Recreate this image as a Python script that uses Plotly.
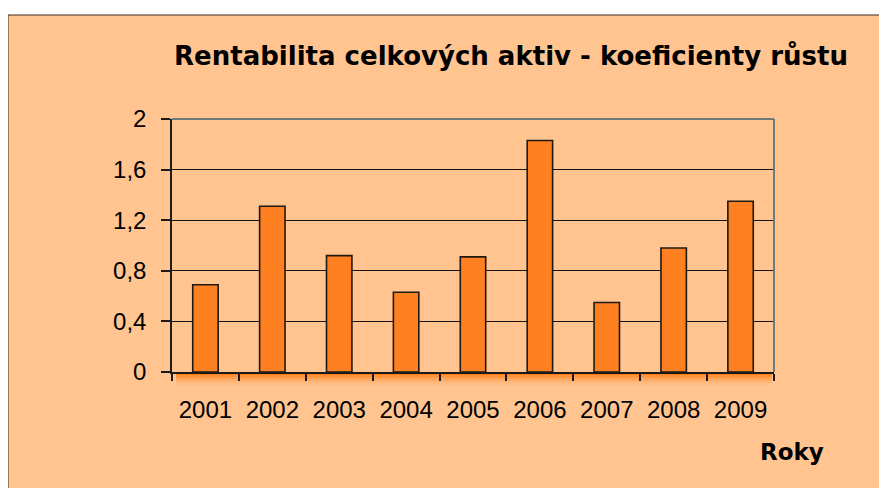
import plotly.graph_objects as go

years = ["2001", "2002", "2003", "2004", "2005", "2006", "2007", "2008", "2009"]
values = [0.69, 1.31, 0.92, 0.63, 0.91, 1.83, 0.55, 0.98, 1.35]
y_tick_vals = [0, 0.4, 0.8, 1.2, 1.6, 2]
y_tick_text = ["0", "0,4", "0,8", "1,2", "1,6", "2"]
title_text = "Rentabilita celkových aktiv - koeficienty růstu"
x_title = "Roky"

# page body adds an 8px margin; work in figure pixel coords (reference - 8)
OFF = 8
W, H = 887 - OFF, 488 - OFF
L, R, T, B = 172 - OFF, 774 - OFF, 119 - OFF, 372 - OFF
pw, ph = R - L, B - T

def px_x(x):
    return (x - OFF - L) / pw

def px_y(y):
    return (B - (y - OFF)) / ph

fig = go.Figure()
fig.add_trace(go.Bar(
    x=years, y=values,
    marker=dict(color="#FF8020", line=dict(color="#1e1a12", width=1.6)),
    width=0.38,
))

shapes = []
shapes.append(dict(type="rect", xref="paper", yref="paper", layer="below",
                   x0=px_x(8), x1=px_x(900), y0=px_y(500), y1=px_y(15),
                   fillcolor="#FFC490", line=dict(color="#3a2a1a", width=1)))
for i, op in enumerate([0.9, 0.7, 0.5, 0.32, 0.18, 0.08]):
    shapes.append(dict(type="rect", xref="paper", yref="paper", layer="below",
                       x0=px_x(176), x1=px_x(772), y0=px_y(373 + 2 * i), y1=px_y(375 + 2 * i),
                       fillcolor="#FF7A10", opacity=op, line=dict(width=0)))
shapes.append(dict(type="line", xref="paper", yref="paper", layer="above",
                   x0=0, x1=1, y0=1, y1=1, line=dict(color="#6d7b7b", width=2)))
shapes.append(dict(type="line", xref="paper", yref="paper", layer="above",
                   x0=1, x1=1, y0=0, y1=1, line=dict(color="#6d7b7b", width=2)))

fig.update_layout(
    width=W, height=H,
    margin=dict(l=L, r=W - R, t=T, b=H - B, pad=0),
    paper_bgcolor="white",
    plot_bgcolor="#FFFFD2",
    showlegend=False,
    bargap=0.62,
    title=dict(text=title_text, x=(511 - OFF) / W, xanchor="center", y=1 - (56 - OFF) / H, yanchor="middle",
               xref="container", yref="container",
               font=dict(family="DejaVu Sans", size=26, color="black", weight="bold")),
    shapes=shapes,
    annotations=[dict(text=x_title, xref="paper", yref="paper", x=px_x(792), y=px_y(452),
                      xanchor="center", yanchor="middle", showarrow=False,
                      font=dict(family="DejaVu Sans", size=23, color="black", weight="bold"))],
    xaxis=dict(
        type="category", showgrid=False, showline=True, linecolor="#1a1a1a", linewidth=1.5,
        ticks="outside", tickson="boundaries", ticklen=7, tickcolor="#1a1a1a", tickwidth=1.5,
        tickfont=dict(family="Liberation Sans", size=24, color="black"),
        ticklabelstandoff=15,
        zeroline=False,
    ),
    yaxis=dict(
        range=[0, 2], tickvals=y_tick_vals, ticktext=y_tick_text,
        showgrid=True, gridcolor="#141414", gridwidth=1.4,
        showline=True, linecolor="#1a1a1a", linewidth=1.5,
        ticks="outside", ticklen=9, tickcolor="#1a1a1a", tickwidth=1.5,
        tickfont=dict(family="Liberation Sans", size=24, color="black"),
        ticklabelstandoff=10,
        zeroline=False, fixedrange=True,
    ),
)

fig.write_html("out.html")
